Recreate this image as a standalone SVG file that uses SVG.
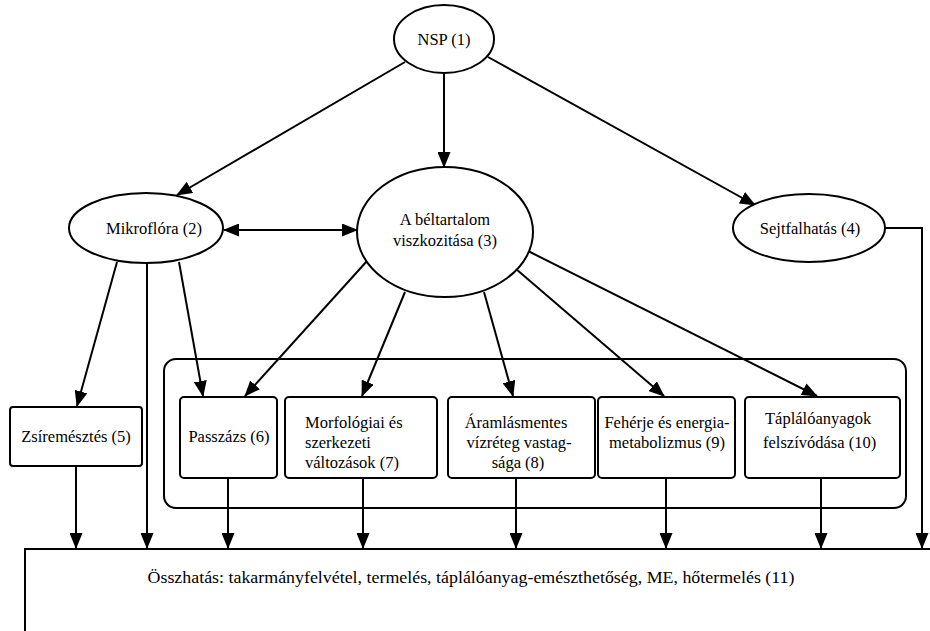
<svg xmlns="http://www.w3.org/2000/svg" width="930" height="631" viewBox="0 0 930 631">
<defs>
<marker id="ah" markerUnits="userSpaceOnUse" markerWidth="16" markerHeight="13" refX="15" refY="6.5" orient="auto-start-reverse">
<path d="M0,0 L16,6.5 L0,13 z" fill="#000"/>
</marker>
<style>
.sh{fill:#fff;stroke:#000;stroke-width:2}
text{font-family:'Liberation Serif','DejaVu Serif','Times New Roman',serif;font-size:16.5px;fill:#000}
.c{text-anchor:middle}
.ln{fill:none;stroke:#000;stroke-width:2}
.ar{marker-end:url(#ah)}
</style>
</defs>
<rect width="930" height="631" fill="#fff"/>
<g id="container">
<rect x="164" y="359" width="742" height="149" rx="12" class="sh"/>
</g>
<g id="connectors">
<line x1="405" y1="62" x2="177" y2="195" class="ln ar"/>
<line x1="444" y1="73" x2="444" y2="167" class="ln ar"/>
<line x1="488" y1="57" x2="755" y2="205" class="ln ar"/>
<line x1="224" y1="230" x2="357" y2="230" class="ln ar" style="marker-start:url(#ah)"/>
<line x1="117" y1="262" x2="77" y2="406" class="ln ar"/>
<line x1="147" y1="264" x2="147" y2="548" class="ln ar"/>
<line x1="179" y1="262" x2="203" y2="396" class="ln ar"/>
<line x1="367" y1="261" x2="245" y2="396" class="ln ar"/>
<line x1="405" y1="292" x2="362" y2="396" class="ln ar"/>
<line x1="484" y1="292" x2="513" y2="396" class="ln ar"/>
<line x1="516" y1="269" x2="664" y2="396" class="ln ar"/>
<line x1="526" y1="250" x2="817" y2="396" class="ln ar"/>
<path d="M885,228 H922 V548" class="ln ar"/>
<line x1="76" y1="466" x2="76" y2="548" class="ln ar"/>
<line x1="228" y1="478" x2="228" y2="548" class="ln ar"/>
<line x1="363" y1="478" x2="363" y2="548" class="ln ar"/>
<line x1="516" y1="478" x2="516" y2="548" class="ln ar"/>
<line x1="666" y1="478" x2="666" y2="548" class="ln ar"/>
<line x1="821" y1="478" x2="821" y2="548" class="ln ar"/>
</g>
<g id="n1">
<ellipse cx="444" cy="39" rx="50" ry="34" class="sh"/>
<text x="444" y="45" class="c">NSP (1)</text>
</g>
<g id="n2">
<ellipse cx="146" cy="228" rx="77" ry="35" class="sh"/>
<text x="154" y="234" class="c">Mikroflóra (2)</text>
</g>
<g id="n3">
<ellipse cx="445" cy="232" rx="88" ry="65" class="sh"/>
<text x="445" y="225" class="c">A béltartalom</text>
<text x="445" y="246" class="c">viszkozitása (3)</text>
</g>
<g id="n4">
<ellipse cx="809" cy="228" rx="76" ry="34" class="sh"/>
<text x="810" y="234" class="c">Sejtfalhatás (4)</text>
</g>
<g id="n5">
<rect x="10" y="407" width="132" height="59" rx="3" class="sh"/>
<text x="76" y="442" class="c">Zsíremésztés (5)</text>
</g>
<g id="n6">
<rect x="180" y="397" width="97" height="81" rx="4" class="sh"/>
<text x="229" y="442" class="c">Passzázs (6)</text>
</g>
<g id="n7">
<rect x="285" y="397" width="152" height="81" rx="4" class="sh"/>
<text x="305" y="428">Morfológiai és</text>
<text x="305" y="448">szerkezeti</text>
<text x="305" y="468">változások (7)</text>
</g>
<g id="n8">
<rect x="448" y="397" width="147" height="81" rx="4" class="sh"/>
<text x="516" y="428" class="c">Áramlásmentes</text>
<text x="519" y="448" class="c">vízréteg vastag-</text>
<text x="518" y="468" class="c">sága (8)</text>
</g>
<g id="n9">
<rect x="598" y="397" width="137" height="81" rx="4" class="sh"/>
<text x="667" y="428" class="c">Fehérje és energia-</text>
<text x="667" y="448" class="c">metabolizmus (9)</text>
</g>
<g id="n10">
<rect x="745" y="397" width="155" height="81" rx="4" class="sh"/>
<text x="765" y="424">Táplálóanyagok</text>
<text x="763" y="448">felszívódása (10)</text>
</g>
<g id="n11">
<rect x="25" y="549" width="930" height="100" class="sh"/>
<text x="471" y="583" class="c" style="font-size:16px" textLength="647" lengthAdjust="spacingAndGlyphs">Összhatás: takarmányfelvétel, termelés, táplálóanyag-emészthetőség, ME, hőtermelés (11)</text>
</g>
</svg>
